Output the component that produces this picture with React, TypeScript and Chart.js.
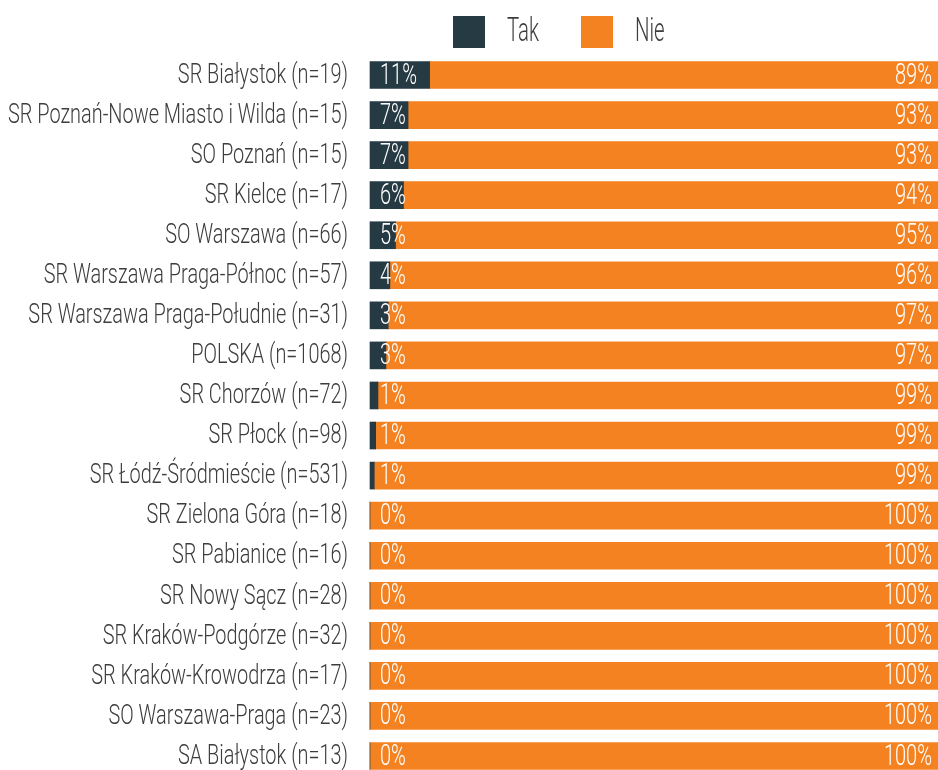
import React, { useEffect, useRef } from "react";
import { Chart, registerables } from "chart.js";

Chart.register(...registerables);

const categories = [
  "SR Białystok (n=19)",
  "SR Poznań-Nowe Miasto i Wilda (n=15)",
  "SO Poznań (n=15)",
  "SR Kielce (n=17)",
  "SO Warszawa (n=66)",
  "SR Warszawa Praga-Północ (n=57)",
  "SR Warszawa Praga-Południe (n=31)",
  "POLSKA (n=1068)",
  "SR Chorzów (n=72)",
  "SR Płock (n=98)",
  "SR Łódź-Śródmieście (n=531)",
  "SR Zielona Góra (n=18)",
  "SR Pabianice (n=16)",
  "SR Nowy Sącz (n=28)",
  "SR Kraków-Podgórze (n=32)",
  "SR Kraków-Krowodrza (n=17)",
  "SO Warszawa-Praga (n=23)",
  "SA Białystok (n=13)",
];

const takValues = [10.5, 6.7, 6.7, 5.9, 4.5, 3.5, 3.2, 2.8, 1.4, 1.0, 0.75, 0, 0, 0, 0, 0, 0, 0];
const nieValues = [89.5, 93.3, 93.3, 94.1, 95.5, 96.5, 96.8, 97.2, 98.6, 99.0, 99.25, 100, 100, 100, 100, 100, 100, 100];

const takLabels = ["11%", "7%", "7%", "6%", "5%", "4%", "3%", "3%", "1%", "1%", "1%", "0%", "0%", "0%", "0%", "0%", "0%", "0%"];
const nieLabels = ["89%", "93%", "93%", "94%", "95%", "96%", "97%", "97%", "99%", "99%", "99%", "100%", "100%", "100%", "100%", "100%", "100%", "100%"];

const seriesNames = ["Tak", "Nie"];
const seriesColors = ["#263a44", "#f58220"];

const FAMILY = "Roboto, 'Liberation Sans', sans-serif";
const WEIGHT = 300;
const TICK_SIZE = 27;
const LEGEND_SIZE = 34;
const BAR_LABEL_SIZE = 30;

function measure(text: string, size: number) {
  const c = document.createElement("canvas").getContext("2d")!;
  c.font = `${WEIGHT} ${size}px ${FAMILY}`;
  return c.measureText(text).width;
}

// run fn while every fillText on ctx is squeezed horizontally around its anchor
function squeezed(ctx: CanvasRenderingContext2D, s: number, fn: () => void, dx = 0, dy = 0) {
  const orig = ctx.fillText;
  (ctx as any).fillText = function (t: string, x: number, y: number) {
    ctx.save();
    ctx.translate(x + dx, y + dy);
    ctx.scale(s, 1);
    orig.call(ctx, t, 0, 0);
    ctx.restore();
  };
  try {
    fn();
  } finally {
    (ctx as any).fillText = orig;
  }
}

export default function App() {
  const ref = useRef<HTMLCanvasElement | null>(null);
  useEffect(() => {
    document.body.style.margin = "0";
    if (!ref.current) return;

    const tickScale = 340 / measure(categories[1], TICK_SIZE);
    const barScale = 37 / measure("11%", BAR_LABEL_SIZE);
    const legendScale = 32 / measure("Tak", LEGEND_SIZE);
    const takW = measure("Tak", LEGEND_SIZE);
    const legendPad = Math.max(4, 581 - 453 - 32 - LEGEND_SIZE / 2 - takW);

    const legendFix = {
      id: "legendFix",
      beforeLayout(chart: any) {
        const lg = chart.legend;
        if (lg && !lg._patched) {
          const origFit = lg.fit.bind(lg);
          lg.fit = function () {
            origFit();
            this.height = 75;
          };
          const origDraw = lg.draw.bind(lg);
          lg.draw = function () {
            squeezed(this.ctx, legendScale, () => origDraw(), 5, 0);
          };
          lg._patched = true;
        }
      },
      afterLayout(chart: any) {
        const lg = chart.legend;
        if (!lg) return;
        const pad = lg.options.labels.padding;
        lg.left = 453 - pad;
        lg.right = lg.left + 938;
        lg.top = 15 - pad;
        lg.bottom = lg.top + 75;
      },
    };

    const squeezeTicks = {
      id: "squeezeTicks",
      beforeDraw(chart: any) {
        const s = chart.scales.y;
        if (!s._sq) {
          const orig = s.drawLabels.bind(s);
          s.drawLabels = function (area: any) {
            squeezed(this.ctx, tickScale, () => orig(area), 0, 1);
          };
          s._sq = true;
        }
      },
    };

    const barLabels = {
      id: "barLabels",
      afterDatasetsDraw(chart: any) {
        const ctx = chart.ctx;
        const area = chart.chartArea;
        const m0 = chart.getDatasetMeta(0);
        ctx.save();
        ctx.fillStyle = "#ffffff";
        ctx.font = `${WEIGHT} ${BAR_LABEL_SIZE}px ${FAMILY}`;
        ctx.textBaseline = "middle";
        squeezed(ctx, barScale, () => {
          m0.data.forEach((el: any, i: number) => {
            const y = el.y + 1;
            ctx.textAlign = "left";
            ctx.fillText(takLabels[i], area.left + 10, y);
            ctx.textAlign = "right";
            ctx.fillText(nieLabels[i], area.right - 6, y);
          });
        });
        ctx.restore();
      },
    };

    const chart = new Chart(ref.current, {
      type: "bar",
      data: {
        labels: categories,
        datasets: [
          { label: seriesNames[0], data: takValues, backgroundColor: seriesColors[0], barThickness: 27, clip: false as any },
          { label: seriesNames[1], data: nieValues, backgroundColor: seriesColors[1], barThickness: 27, clip: false as any },
        ],
      },
      options: {
        indexAxis: "y",
        animation: false,
        responsive: false,
        layout: { padding: { top: 0, bottom: 14, left: 0, right: 0 } },
        scales: {
          x: { stacked: true, min: 0, max: 100, display: false },
          y: {
            stacked: true,
            offset: false,
            grid: { display: false, drawTicks: false },
            border: { display: false },
            ticks: {
              padding: 22,
              color: "#3d3d3d",
              font: { family: FAMILY, size: TICK_SIZE, weight: WEIGHT as any },
              autoSkip: false,
            },
            afterFit: (scale: any) => {
              scale.width = 370;
              scale.paddingTop = 0;
              scale.paddingBottom = 0;
            },
          },
        },
        plugins: {
          legend: {
            position: "top",
            align: "start",
            labels: {
              boxWidth: 32,
              boxHeight: 32,
              padding: legendPad,
              color: "#3d3d3d",
              font: { family: FAMILY, size: LEGEND_SIZE, weight: WEIGHT as any },
            },
          },
          tooltip: { enabled: false },
        },
      },
      plugins: [legendFix, squeezeTicks, barLabels],
    });
    return () => chart.destroy();
  }, []);
  return (
    <div style={{ width: 938, height: 770 }}>
      <canvas ref={ref} width={938} height={770} style={{ display: "block" }} />
    </div>
  );
}
